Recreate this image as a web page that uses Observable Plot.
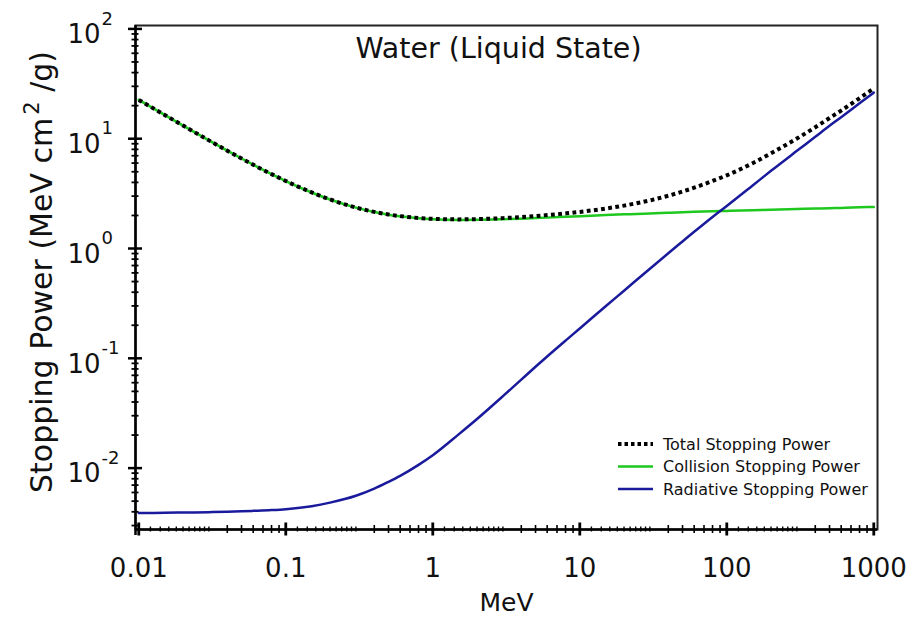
<!DOCTYPE html>
<html><head><meta charset="utf-8">
<script src="https://cdn.jsdelivr.net/npm/d3@7"></script>
<script src="https://cdn.jsdelivr.net/npm/@observablehq/plot@0.6"></script>
<style>body{margin:0;background:#fff} svg{display:block}</style>
</head><body><div id="chart"></div>
<script>
// Electron stopping power in liquid water (MeV cm^2/g)
const energy    = [0.01, 0.015, 0.02, 0.03, 0.04, 0.05, 0.06, 0.08, 0.1, 0.15, 0.2, 0.3, 0.4, 0.5, 0.6, 0.8, 1, 1.5, 2, 3, 4, 5, 6, 8, 10, 15, 20, 30, 40, 50, 60, 80, 100, 150, 200, 300, 400, 500, 600, 800, 1000];
const collision = [22.56, 16.47, 13.17, 9.653, 7.777, 6.603, 5.797, 4.757, 4.115, 3.238, 2.793, 2.355, 2.148, 2.034, 1.963, 1.886, 1.849, 1.822, 1.824, 1.846, 1.870, 1.892, 1.911, 1.943, 1.968, 2.014, 2.046, 2.089, 2.118, 2.141, 2.158, 2.183, 2.20, 2.23, 2.26, 2.29, 2.31, 2.33, 2.34, 2.37, 2.39];
const radiative = [0.00390, 0.00392, 0.00394, 0.00397, 0.00400, 0.00404, 0.00408, 0.00415, 0.00423, 0.00450, 0.00485, 0.00560, 0.00650, 0.00750, 0.00850, 0.0107, 0.0131, 0.0203, 0.0280, 0.0452, 0.0640, 0.0838, 0.104, 0.145, 0.187, 0.298, 0.413, 0.655, 0.905, 1.16, 1.42, 1.94, 2.44, 3.75, 5.10, 7.75, 10.4, 13.1, 15.7, 21.0, 26.3];
const total     = [22.56, 16.47, 13.17, 9.657, 7.781, 6.607, 5.801, 4.761, 4.119, 3.243, 2.798, 2.361, 2.155, 2.042, 1.972, 1.897, 1.862, 1.842, 1.852, 1.891, 1.934, 1.976, 2.015, 2.088, 2.155, 2.312, 2.459, 2.744, 3.023, 3.301, 3.578, 4.123, 4.64, 5.98, 7.36, 10.04, 12.71, 15.43, 18.04, 23.37, 28.69];

const seriesNames = ["Total Stopping Power", "Collision Stopping Power", "Radiative Stopping Power"];
const seriesColors = ["#000000", "#1ec81e", "#1a1a9c"];
const xTickValues = [0.01, 0.1, 1, 10, 100, 1000];
const xTickLabels = ["0.01", "0.1", "1", "10", "100", "1000"];
const yTickValues = [0.01, 0.1, 1, 10, 100];
const yTickExponents = ["-2", "-1", "0", "1", "2"];
const titleText = "Water (Liquid State)";
const xLabel = "MeV";
const yLabelParts = ["Stopping Power (MeV cm", "2", " /g)"];

const xDomain = [0.0095, 1060];
const yDomain = [0.00276, 107.4];

const rows = energy.map((e, i) => ({e, coll: collision[i], rad: radiative[i], tot: total[i]}));

// tick sets (log axis)
const decadesX = [0.01, 0.1, 1, 10, 100];
const xSmall = [], xMedium = [];
for (const d of decadesX) {
  for (const k of [1.2, 1.4, 1.6, 1.8, 2, 2.2, 2.4, 2.6, 2.8, 3]) xSmall.push(d * k);
  for (const k of [4, 5, 6, 7, 8, 9]) xMedium.push(d * k);
}
const yMinor = [];
for (const d of [0.001, 0.01, 0.1, 1, 10]) for (const k of [2,3,4,5,6,7,8,9]) {
  const v = d * k; if (v >= yDomain[0] && v <= yDomain[1]) yMinor.push(v);
}
const X0 = () => xDomain[0], Y0 = () => yDomain[0];
const FONT = "DejaVu Sans";

const plot = Plot.plot({
  width: 914, height: 624,
  marginLeft: 135, marginRight: 37, marginTop: 25, marginBottom: 95,
  style: {fontFamily: FONT, background: "#fff"},
  x: {type: "log", domain: xDomain, axis: null},
  y: {type: "log", domain: yDomain, axis: null},
  marks: [
    Plot.frame({stroke: "#222", strokeWidth: 2}),
    Plot.line(rows, {x: "e", y: "coll", stroke: seriesColors[1], strokeWidth: 2.5, curve: "monotone-x"}),
    Plot.line(rows, {x: "e", y: "rad", stroke: seriesColors[2], strokeWidth: 2.5, curve: "monotone-x"}),
    Plot.line(rows, {x: "e", y: "tot", stroke: seriesColors[0], strokeWidth: 4, strokeDasharray: "3.8,3.4", strokeLinecap: "butt", curve: "monotone-x"}),
    // axis lines
    Plot.ruleX([xDomain[0]], {stroke: "#000", strokeWidth: 2.5, insetBottom: -6}),
    Plot.ruleY([yDomain[0]], {stroke: "#000", strokeWidth: 2.5}),
    // y ticks
    Plot.ruleY(yTickValues, {y: d => d, x1: X0, x2: X0, insetLeft: -7, insetRight: -7, stroke: "#000", strokeWidth: 2.5}),
    Plot.ruleY(yMinor, {y: d => d, x1: X0, x2: X0, insetLeft: -3.5, insetRight: -3.5, stroke: "#000", strokeWidth: 1.8}),
    // x ticks
    Plot.ruleX(xTickValues, {x: d => d, y1: Y0, y2: Y0, insetTop: -6.5, insetBottom: -6.5, stroke: "#000", strokeWidth: 2.8}),
    Plot.ruleX(xMedium, {x: d => d, y1: Y0, y2: Y0, insetTop: -4, insetBottom: -4, stroke: "#000", strokeWidth: 1.6}),
    Plot.ruleX(xSmall, {x: d => d, y1: Y0, y2: Y0, insetTop: -2.5, insetBottom: -2.5, stroke: "#000", strokeWidth: 1.4}),
    // tick labels
    Plot.text(yTickValues, {x: X0, y: d => d, text: () => "10", textAnchor: "end", dx: -35, dy: 6, fontSize: 26, fill: "#111"}),
    Plot.text(yTickValues, {x: X0, y: d => d, text: (d, i) => yTickExponents[i], textAnchor: "start", dx: -34, dy: -10, fontSize: 18, fill: "#111"}),
    Plot.text(xTickValues, {x: d => d, y: Y0, text: (d, i) => xTickLabels[i], dy: 39, fontSize: 26, fill: "#111"}),
    // axis labels and title
    Plot.text([xLabel], {frameAnchor: "bottom", text: d => d, dy: 81, fontSize: 25, fill: "#111"}),
    Plot.text(["YLABEL"], {frameAnchor: "left", text: d => d, rotate: -90, dx: -93, dy: -4, fontSize: 30, fill: "#111"}),
    Plot.text([titleText], {frameAnchor: "top", text: d => d, dy: 12, dx: -8, fontSize: 28.5, fill: "#111"})
  ]
});

document.getElementById("chart").appendChild(plot);

// y label with superscript (centred by measuring its length)
const svg = d3.select(plot);
svg.selectAll("text").filter(function() { return this.textContent === "YLABEL"; }).each(function() {
  const t = d3.select(this);
  t.text(null).attr("text-anchor", "start");
  t.append("tspan").text(yLabelParts[0]);
  t.append("tspan").attr("dy", -13).attr("dx", 3).attr("font-size", 21).text(yLabelParts[1]);
  t.append("tspan").attr("dy", 13).text(yLabelParts[2]);
  const len = this.getComputedTextLength();
  t.attr("x", -len / 2);
});

// legend
const lg = svg.append("g").attr("font-family", FONT).attr("font-size", 16).attr("fill", "#111").attr("text-anchor", "start");
const legendStyles = [
  {w: 4, dash: "3.5,3"},
  {w: 2.5, dash: null},
  {w: 2.5, dash: null}
];
seriesNames.forEach((name, i) => {
  const y = 444 + i * 22.5;
  const ln = lg.append("line").attr("x1", 618).attr("x2", 653).attr("y1", y).attr("y2", y)
    .attr("stroke", seriesColors[i]).attr("stroke-width", legendStyles[i].w);
  if (legendStyles[i].dash) ln.attr("stroke-dasharray", legendStyles[i].dash);
  lg.append("text").attr("x", 663).attr("y", y).attr("dy", "0.35em").attr("text-anchor", "start").text(name);
});
</script>
</body></html>
